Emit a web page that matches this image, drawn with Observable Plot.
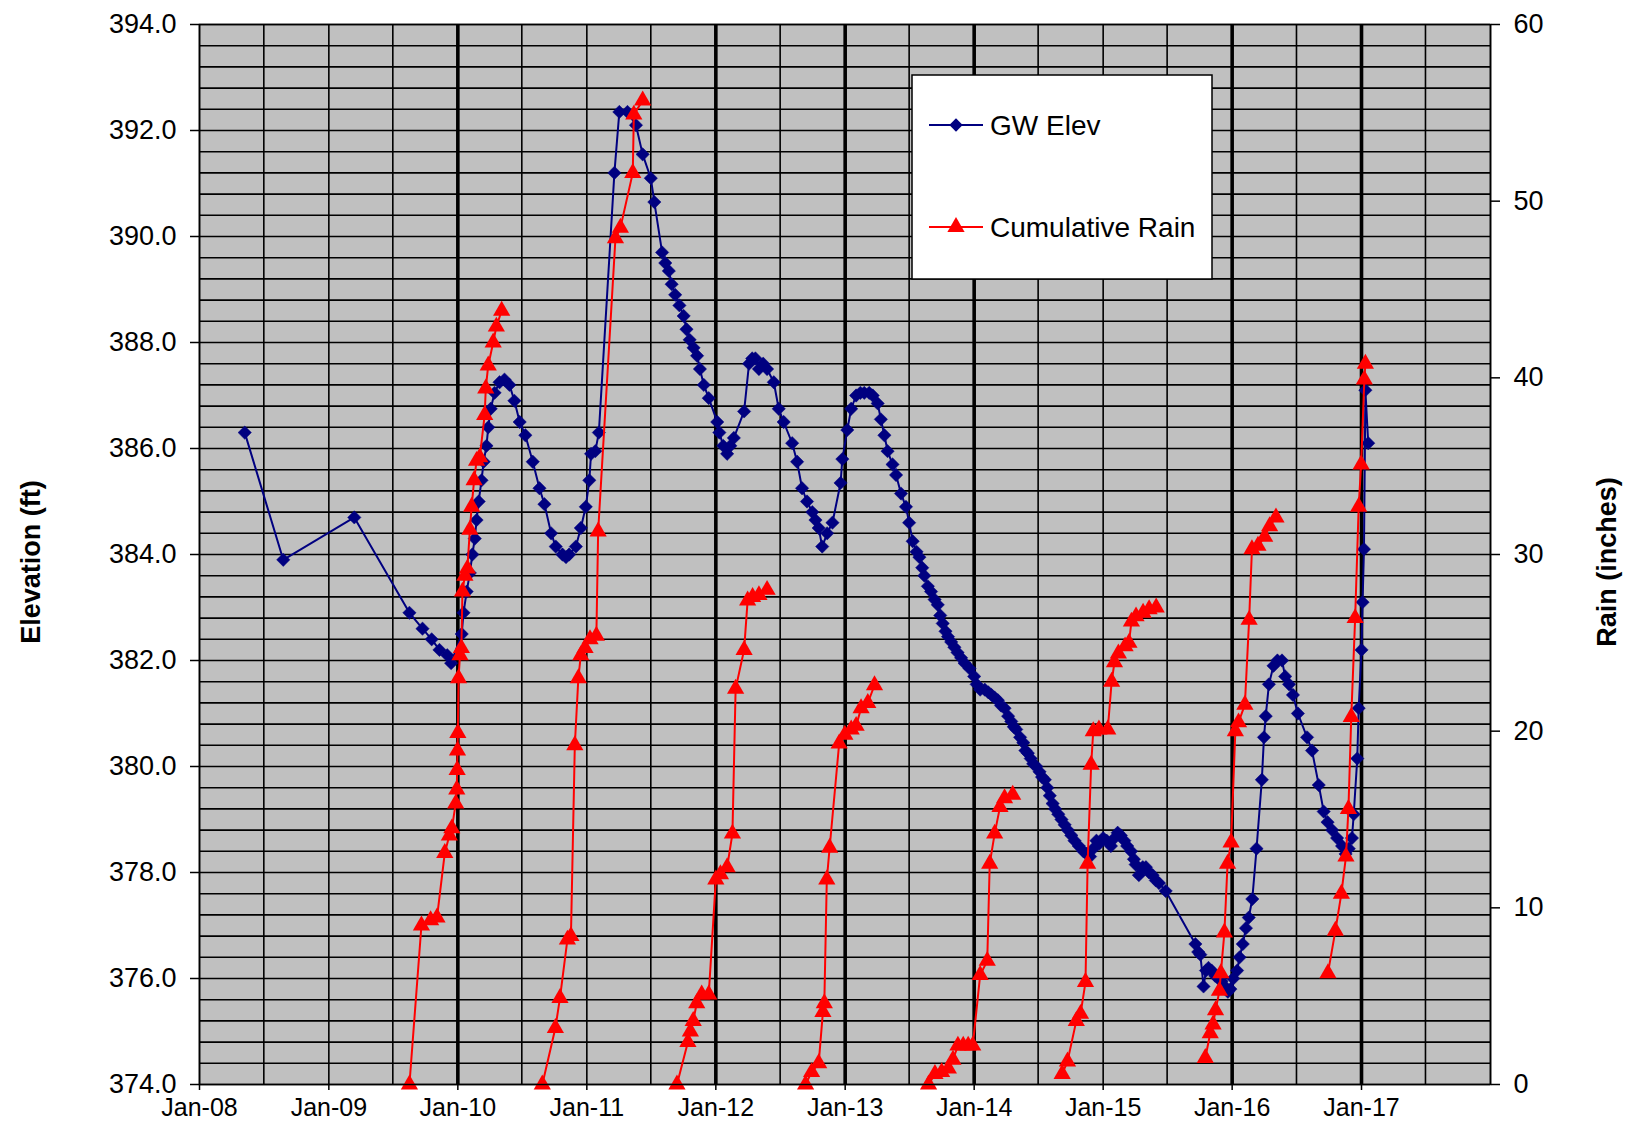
<!DOCTYPE html>
<html><head><meta charset="utf-8">
<script src="https://cdn.jsdelivr.net/npm/d3@7"></script>
<script src="https://cdn.jsdelivr.net/npm/@observablehq/plot@0.6"></script>
<style>
body{margin:0;background:#fff;font-family:"Liberation Sans",Arial,sans-serif;}
#chart{width:1639px;height:1123px;}
</style></head><body><div id="chart"></div>
<script>
// ---- data ----
const gwDates = ["2008-05-08","2008-08-25","2009-03-14","2009-08-17","2009-09-23","2009-10-19","2009-11-10","2009-12-02","2009-12-13",
"2010-01-12","2010-01-17","2010-01-26","2010-02-04","2010-02-11","2010-02-18","2010-02-23","2010-03-01","2010-03-09","2010-03-15",
"2010-03-23","2010-03-28","2010-04-04","2010-04-15","2010-04-29","2010-05-13","2010-05-27","2010-06-10","2010-06-25","2010-07-11",
"2010-08-01","2010-08-20","2010-09-03","2010-09-22","2010-10-05","2010-10-24","2010-11-03","2010-11-12","2010-12-01","2010-12-15",
"2010-12-29","2011-01-08","2011-01-13","2011-01-25","2011-02-04","2011-03-20","2011-04-03","2011-04-26","2011-05-20","2011-06-08",
"2011-07-01","2011-07-11","2011-08-02","2011-08-11","2011-08-21","2011-08-29","2011-09-08","2011-09-20","2011-10-02","2011-10-10",
"2011-10-19","2011-10-30","2011-11-09","2011-11-17","2011-11-28","2011-12-12","2012-01-05","2012-01-11","2012-01-22","2012-02-02",
"2012-02-11","2012-02-21","2012-03-21","2012-04-04","2012-04-13","2012-04-22","2012-05-02","2012-05-14","2012-05-25","2012-06-13",
"2012-06-27","2012-07-11","2012-08-04","2012-08-18","2012-09-01","2012-09-15","2012-09-30","2012-10-09","2012-10-18","2012-10-28",
"2012-11-11","2012-11-26","2012-12-19","2012-12-24","2013-01-07","2013-01-18","2013-02-01","2013-02-13","2013-02-24","2013-03-10",
"2013-03-20","2013-04-03","2013-04-12","2013-04-22","2013-05-01","2013-05-15","2013-05-25","2013-06-08","2013-06-22","2013-07-01",
"2013-07-11","2013-07-22","2013-07-30","2013-08-07","2013-08-13","2013-08-23","2013-09-01","2013-09-11","2013-09-20","2013-09-27",
"2013-10-04","2013-10-12","2013-10-19","2013-10-28","2013-11-06","2013-11-15","2013-11-25","2013-12-05","2013-12-19","2014-01-01",
"2014-01-08","2014-01-18","2014-01-31","2014-02-10","2014-02-19","2014-02-28","2014-03-09","2014-03-18","2014-03-28","2014-04-07",
"2014-04-16","2014-04-23","2014-04-30","2014-05-11","2014-05-20","2014-05-26","2014-06-02","2014-06-10","2014-06-17","2014-06-26",
"2014-07-05","2014-07-12","2014-07-20","2014-07-27","2014-08-03","2014-08-11","2014-08-18","2014-08-27","2014-09-05","2014-09-14",
"2014-09-23","2014-10-03","2014-10-12","2014-10-24","2014-11-06","2014-11-15","2014-11-25","2014-12-04","2014-12-13","2014-12-22",
"2015-01-01","2015-01-11","2015-01-23","2015-02-02","2015-02-11","2015-02-20","2015-03-02","2015-03-10","2015-03-21","2015-03-29",
"2015-04-03","2015-04-12","2015-04-23","2015-05-02","2015-05-11","2015-05-21","2015-05-30","2015-06-08","2015-06-27","2015-09-19",
"2015-09-27","2015-10-03","2015-10-12","2015-10-19","2015-10-26","2015-11-04","2015-11-14","2015-11-23","2015-12-02","2015-12-11",
"2015-12-20","2015-12-27","2016-01-04","2016-01-15","2016-01-22","2016-01-31","2016-02-09","2016-02-17","2016-02-27","2016-03-10",
"2016-03-25","2016-03-31","2016-04-05","2016-04-14","2016-04-27","2016-05-08","2016-05-21","2016-05-30","2016-06-10","2016-06-21",
"2016-07-05","2016-07-31","2016-08-14","2016-09-02","2016-09-16","2016-09-27","2016-10-10","2016-10-24","2016-11-07","2016-11-17",
"2016-11-26","2016-12-05","2016-12-10","2016-12-20","2016-12-24","2017-01-01","2017-01-04","2017-01-08","2017-01-12","2017-01-20"];
const gwElev = [386.3,383.9,384.7,382.9,382.6,382.4,382.2,382.1,381.95,
382.5,382.9,383.3,383.65,384.0,384.3,384.65,385.0,385.4,385.75,
386.05,386.4,386.75,387.05,387.25,387.3,387.2,386.9,386.5,386.25,
385.75,385.25,384.95,384.4,384.15,384.0,383.95,384.0,384.15,384.5,
384.9,385.4,385.9,385.95,386.3,391.2,392.35,392.35,392.1,391.55,
391.1,390.65,389.7,389.5,389.35,389.1,388.9,388.7,388.5,388.25,
388.05,387.9,387.75,387.5,387.2,386.95,386.5,386.3,386.05,385.9,
386.05,386.2,386.7,387.6,387.7,387.7,387.5,387.6,387.5,387.25,
386.75,386.5,386.1,385.75,385.25,385.0,384.8,384.65,384.5,384.15,
384.4,384.6,385.35,385.8,386.35,386.75,387.0,387.05,387.05,387.05,
387.0,386.85,386.55,386.25,385.95,385.7,385.5,385.15,384.9,384.6,
384.25,384.05,383.95,383.75,383.6,383.4,383.3,383.15,383.05,382.85,
382.7,382.55,382.45,382.35,382.25,382.15,382.05,381.95,381.85,381.7,
381.55,381.45,381.45,381.4,381.35,381.3,381.25,381.15,381.1,380.95,
380.85,380.75,380.7,380.55,380.45,380.3,380.25,380.15,380.05,380.0,
379.9,379.8,379.75,379.6,379.45,379.3,379.2,379.1,379.0,378.9,
378.8,378.7,378.6,378.5,378.4,378.35,378.3,378.45,378.6,378.55,
378.65,378.6,378.5,378.65,378.75,378.7,378.6,378.5,378.4,378.25,
378.15,377.95,378.1,378.1,378.0,377.95,377.85,377.8,377.65,376.65,
376.5,376.45,375.85,376.15,376.2,376.15,376.05,376.0,375.95,375.85,
375.75,375.8,376.0,376.15,376.4,376.65,376.95,377.15,377.5,378.45,
379.75,380.55,380.95,381.55,381.9,382.0,382.0,381.7,381.55,381.35,
381.0,380.55,380.3,379.65,379.15,378.95,378.8,378.65,378.5,378.35,
378.45,378.65,379.1,380.15,381.1,382.2,383.1,384.1,387.1,386.1];

const rainDates = ["2009-08-17","2009-09-20","2009-10-16","2009-11-03","2009-11-25","2009-12-08","2009-12-15","2009-12-26","2009-12-29",
"2009-12-30","2009-12-31","2010-01-01","2010-01-03","2010-01-07","2010-01-11","2010-01-14","2010-01-21","2010-01-28","2010-02-04",
"2010-02-09","2010-02-16","2010-02-23","2010-03-04","2010-03-18","2010-03-21","2010-03-28","2010-04-11","2010-04-20","2010-05-05",
"2010-08-28","2010-10-04","2010-10-17","2010-11-07","2010-11-17","2010-11-28","2010-12-08","2010-12-15","2010-12-27","2011-01-10",
"2011-01-28","2011-02-02","2011-03-23","2011-04-06","2011-05-11","2011-05-14","2011-06-08",
"2011-09-13","2011-10-14","2011-10-21","2011-10-29","2011-11-08","2011-11-22","2011-12-12","2012-01-01","2012-01-14","2012-02-02",
"2012-02-17","2012-02-26","2012-03-21","2012-03-31","2012-04-14","2012-05-02","2012-05-25",
"2012-09-11","2012-09-28","2012-10-18","2012-10-30","2012-11-03","2012-11-10","2012-11-18","2012-12-15","2012-12-31","2013-01-18",
"2013-02-01","2013-02-15","2013-03-06","2013-03-25",
"2013-08-25","2013-09-12","2013-10-01","2013-10-20","2013-11-02","2013-11-16","2013-12-01","2013-12-15","2013-12-28","2014-01-18",
"2014-02-07","2014-02-14","2014-02-28","2014-03-15","2014-03-28","2014-04-20",
"2014-09-07","2014-09-22","2014-10-17","2014-10-29","2014-11-12","2014-11-18","2014-11-28","2014-12-04","2014-12-20","2015-01-14",
"2015-01-25","2015-02-02","2015-02-13","2015-03-04","2015-03-15","2015-03-22","2015-04-04","2015-04-24","2015-05-11","2015-05-31",
"2015-10-17","2015-10-31","2015-11-08","2015-11-15","2015-11-26","2015-11-30","2015-12-10","2015-12-19","2015-12-29","2016-01-10",
"2016-01-19","2016-02-06","2016-02-18","2016-02-26","2016-03-14","2016-04-02","2016-04-16","2016-05-04",
"2016-09-28","2016-10-19","2016-11-05","2016-11-18","2016-11-25","2016-12-03","2016-12-14","2016-12-24","2016-12-31","2017-01-09",
"2017-01-12"];
const rainInches = [0,9.0,9.3,9.45,13.1,14.1,14.5,15.9,16.7,
17.8,18.9,19.9,23.0,24.3,24.7,27.9,28.8,29.2,31.4,
32.7,34.2,35.3,35.5,37.9,39.4,40.7,42.0,42.9,43.8,
0,3.2,4.9,8.2,8.4,19.2,23.0,24.3,24.7,25.2,
25.4,31.3,47.9,48.5,51.6,54.9,55.7,
0,2.4,3.0,3.6,4.6,5.1,5.1,11.6,11.9,12.3,
14.2,22.4,24.6,27.4,27.6,27.7,28.0,
0,0.7,1.2,4.1,4.6,11.6,13.4,19.3,19.8,20.1,
20.3,21.3,21.6,22.6,
0,0.6,0.7,0.9,1.4,2.2,2.2,2.2,2.2,6.2,
7.0,12.5,14.2,15.7,16.2,16.4,
0.6,1.3,3.6,4.0,5.8,12.5,18.1,20.0,20.1,20.1,
22.8,23.9,24.4,24.8,25.0,26.2,26.5,26.7,26.9,27.0,
1.5,2.9,3.4,4.2,5.3,6.3,8.6,12.5,13.7,20.0,
20.5,21.5,26.3,30.3,30.5,31.0,31.6,32.1,
6.3,8.7,10.8,12.9,15.6,20.8,26.4,32.7,35.1,39.9,
40.8];
const rainSeason = [1,1,1,1,1,1,1,1,1,1,1,1,1,1,1,1,1,1,1,1,1,1,1,1,1,1,1,1,1,
2,2,2,2,2,2,2,2,2,2,2,2,2,2,2,2,2,
3,3,3,3,3,3,3,3,3,3,3,3,3,3,3,3,3,
4,4,4,4,4,4,4,4,4,4,4,4,4,4,
5,5,5,5,5,5,5,5,5,5,5,5,5,5,5,5,
6,6,6,6,6,6,6,6,6,6,6,6,6,6,6,6,6,6,6,6,
7,7,7,7,7,7,7,7,7,7,7,7,7,7,7,7,7,7,
8,8,8,8,8,8,8,8,8,8,8];

const elevTicks = [374,376,378,380,382,384,386,388,390,392,394];
const rainTicks = [0,10,20,30,40,50,60];
const yearTicks = ["2008","2009","2010","2011","2012","2013","2014","2015","2016","2017"];
const heavyYears = ["2010","2012","2013","2014","2016","2017"];

// ---- build ----
const parse = d3.utcParse("%Y-%m-%d");
const gw = gwDates.map((d, i) => ({date: parse(d), elev: gwElev[i]}));
const rain = rainDates.map((d, i) => ({date: parse(d), rain: rainInches[i], season: rainSeason[i]}));
const elevMin = 374, elevMax = 394, rainMax = 60;
const rainToElev = r => elevMin + r * (elevMax - elevMin) / rainMax;
const x0 = parse("2008-01-01"), x1 = parse("2018-01-01");
const hGrid = d3.range(0, 51).map(i => elevMin + i * 0.4);
const vGrid = d3.utcMonth.every(6).range(x0, d3.utcDay.offset(x1, 1));
const yearDate = y => parse(y + "-01-01");
const font = "Liberation Sans, Arial, sans-serif";
const gwR = 6, rainR = 6.4;

const plot = Plot.plot({
  width: 1639, height: 1123,
  marginLeft: 199, marginRight: 149, marginTop: 24, marginBottom: 39,
  style: {fontFamily: font, color: "#000", background: "#fff", overflow: "visible"},
  x: {type: "utc", domain: [x0, x1]},
  y: {domain: [elevMin, elevMax]},
  marks: [
    Plot.frame({fill: "#c0c0c0"}),
    Plot.ruleY(hGrid, {stroke: "#000", strokeWidth: 1.6}),
    Plot.ruleX(vGrid, {stroke: "#000", strokeWidth: 1.6}),
    Plot.ruleX(heavyYears.map(yearDate), {stroke: "#000", strokeWidth: 3.6}),
    Plot.line(gw, {x: "date", y: "elev", stroke: "#000080", strokeWidth: 2}),
    Plot.dot(gw, {x: "date", y: "elev", symbol: "diamond2", r: gwR, fill: "#000080", stroke: "#000080", strokeWidth: 0.5}),
    Plot.line(rain, {x: "date", y: d => rainToElev(d.rain), z: "season", stroke: "#ff0000", strokeWidth: 2}),
    Plot.dot(rain, {x: "date", y: d => rainToElev(d.rain), symbol: "triangle", r: rainR, fill: "#ff0000", stroke: "none"}),
    Plot.frame({stroke: "#000", strokeWidth: 1.5}),
    Plot.axisY({ticks: elevTicks, anchor: "left", tickFormat: d3.format(".1f"), tickSize: 9, tickPadding: 14, fontSize: 27, label: null, strokeWidth: 1.5}),
    Plot.axisY({ticks: rainTicks.map(rainToElev), anchor: "right", tickFormat: d => String(Math.round((d - elevMin) * rainMax / (elevMax - elevMin))), tickSize: 9, tickPadding: 14, fontSize: 27, label: null, strokeWidth: 1.5}),
    Plot.axisX({ticks: yearTicks.map(yearDate), anchor: "bottom", tickFormat: d3.utcFormat("%b-%y"), tickSize: 6, tickPadding: 8, fontSize: 25, label: null, strokeWidth: 1.5})
  ]
});
document.getElementById("chart").appendChild(plot);

// axis titles
const svg = d3.select(plot);
svg.append("text").attr("transform", "translate(31,562) rotate(-90)")
  .attr("text-anchor", "middle").attr("dominant-baseline", "central")
  .attr("font-family", font).attr("font-size", 27).attr("font-weight", "bold").text("Elevation (ft)");
svg.append("text").attr("transform", "translate(1607,562) rotate(-90)")
  .attr("text-anchor", "middle").attr("dominant-baseline", "central")
  .attr("font-family", font).attr("font-size", 27).attr("font-weight", "bold").text("Rain (inches)");

// legend
const lg = svg.append("g").attr("transform", "translate(912,75)");
lg.append("rect").attr("width", 300).attr("height", 204).attr("fill", "#fff").attr("stroke", "#000").attr("stroke-width", 1.5);
const entries = [
  {label: "GW Elev", color: "#000080", sym: d3.symbolDiamond2, r: gwR, y: 50},
  {label: "Cumulative Rain", color: "#ff0000", sym: d3.symbolTriangle, r: rainR, y: 152}
];
for (const e of entries) {
  lg.append("line").attr("x1", 17).attr("x2", 71).attr("y1", e.y).attr("y2", e.y).attr("stroke", e.color).attr("stroke-width", 2);
  lg.append("path").attr("d", d3.symbol(e.sym, Math.PI * e.r * e.r)()).attr("transform", `translate(44,${e.y})`).attr("fill", e.color);
  lg.append("text").attr("x", 78).attr("y", e.y).attr("text-anchor", "start").attr("dominant-baseline", "central")
    .attr("font-family", font).attr("font-size", 28).text(e.label);
}
</script>
</body></html>
